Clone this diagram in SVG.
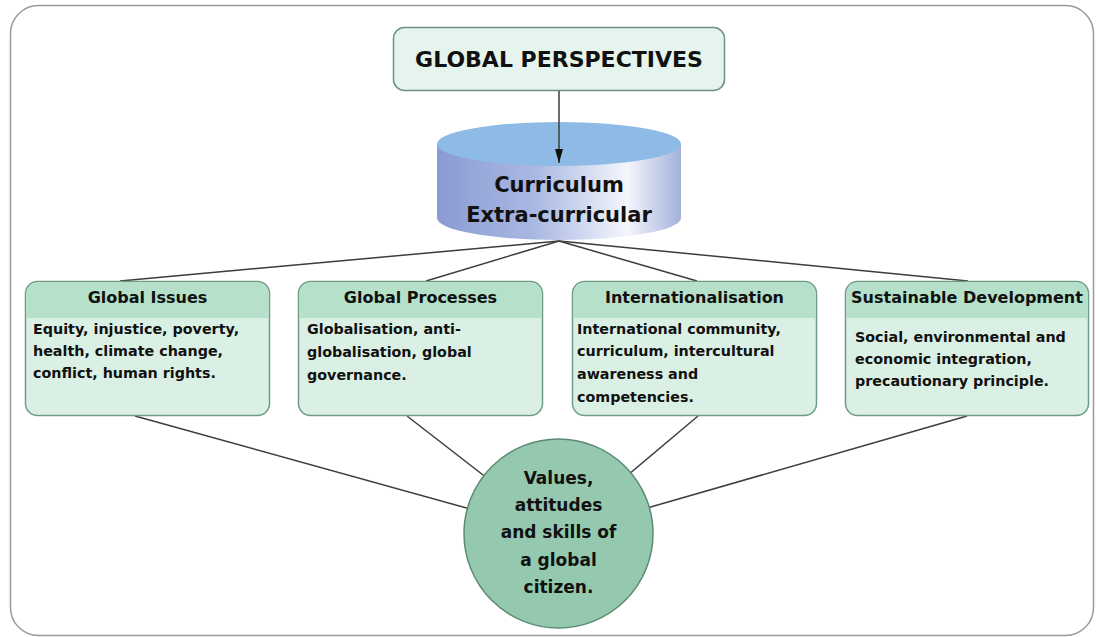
<svg xmlns="http://www.w3.org/2000/svg" width="1096" height="637" viewBox="0 0 1096 637">
  <style>
    text { font-family: "DejaVu Sans", Verdana, sans-serif; font-weight: bold; fill: #111111; }
    .conn { stroke: #3c3c3c; stroke-width: 1.5; fill: none; }
    .box { fill: #dbf0e4; stroke: #6f9c84; stroke-width: 1.5; }
    .hdr { fill: #b5e1cb; }
    .title { font-size: 16px; text-anchor: middle; }
    .body { font-size: 14.3px; }
    .circ { font-size: 17px; text-anchor: middle; }
  </style>
  <defs>
    <marker id="arrow" viewBox="0 0 14 8" refX="14" refY="4" markerWidth="14" markerHeight="8" orient="auto" markerUnits="userSpaceOnUse">
      <path d="M0,0 L14,4 L0,8 Z" fill="#111"/>
    </marker>
    <linearGradient id="cylSide" x1="0" y1="0" x2="1" y2="0">
      <stop offset="0" stop-color="#8a9bd2"/>
      <stop offset="0.4" stop-color="#a9b8e2"/>
      <stop offset="0.78" stop-color="#f4f6fc"/>
      <stop offset="1" stop-color="#a3b2dc"/>
    </linearGradient>
  </defs>

  <rect id="frame" x="10.5" y="5.5" width="1083" height="630" rx="28" ry="28" fill="#ffffff" stroke="#9a9a9a" stroke-width="1.5"/>

  <g id="connectors">
    <line class="conn" x1="559" y1="241" x2="120" y2="281"/>
    <line class="conn" x1="559" y1="241" x2="426" y2="281"/>
    <line class="conn" x1="559" y1="241" x2="697" y2="281"/>
    <line class="conn" x1="559" y1="241" x2="968" y2="281"/>
    <line class="conn" x1="135" y1="416" x2="558.5" y2="533.5"/>
    <line class="conn" x1="407" y1="416" x2="558.5" y2="533.5"/>
    <line class="conn" x1="698" y1="416" x2="558.5" y2="533.5"/>
    <line class="conn" x1="967" y1="416" x2="558.5" y2="533.5"/>
  </g>

  <g id="global-perspectives">
    <rect x="393.5" y="27.5" width="331" height="63" rx="11" ry="11" fill="#e5f4ec" stroke="#6f8f80" stroke-width="1.5"/>
    <text x="559" y="67" font-size="22" text-anchor="middle">GLOBAL PERSPECTIVES</text>
  </g>

  <g id="curriculum">
    <path d="M437,144 L437,218 A122,22 0 0 0 681,218 L681,144 Z" fill="url(#cylSide)"/>
    <ellipse cx="559" cy="144" rx="122" ry="22" fill="#8dbbe6"/>
    <text x="559" y="192" font-size="21" text-anchor="middle">Curriculum</text>
    <text x="559" y="222" font-size="21" text-anchor="middle">Extra-curricular</text>
  </g>

  <g id="arrow-connector">
    <line class="conn" x1="559" y1="91" x2="559" y2="163" marker-end="url(#arrow)"/>
  </g>

  <g id="global-issues">
    <rect class="box" x="25.5" y="281.5" width="244" height="134" rx="12" ry="12"/>
    <path class="hdr" d="M26.5,318 L26.5,293.5 A11,11 0 0 1 37.5,282.5 L257.5,282.5 A11,11 0 0 1 268.5,293.5 L268.5,318 Z"/>
    <text class="title" x="147.5" y="303">Global Issues</text>
    <text class="body" x="33" y="334">Equity, injustice, poverty,</text>
    <text class="body" x="33" y="356">health, climate change,</text>
    <text class="body" x="33" y="378">conflict, human rights.</text>
  </g>

  <g id="global-processes">
    <rect class="box" x="298.5" y="281.5" width="244" height="134" rx="12" ry="12"/>
    <path class="hdr" d="M299.5,318 L299.5,293.5 A11,11 0 0 1 310.5,282.5 L530.5,282.5 A11,11 0 0 1 541.5,293.5 L541.5,318 Z"/>
    <text class="title" x="420.5" y="303">Global Processes</text>
    <text class="body" x="307" y="334">Globalisation, anti-</text>
    <text class="body" x="307" y="357">globalisation, global</text>
    <text class="body" x="307" y="380">governance.</text>
  </g>

  <g id="internationalisation">
    <rect class="box" x="572.5" y="281.5" width="244" height="134" rx="12" ry="12"/>
    <path class="hdr" d="M573.5,318 L573.5,293.5 A11,11 0 0 1 584.5,282.5 L804.5,282.5 A11,11 0 0 1 815.5,293.5 L815.5,318 Z"/>
    <text class="title" x="694.5" y="303">Internationalisation</text>
    <text class="body" x="577" y="334">International community,</text>
    <text class="body" x="577" y="356">curriculum, intercultural</text>
    <text class="body" x="577" y="379">awareness and</text>
    <text class="body" x="577" y="402">competencies.</text>
  </g>

  <g id="sustainable-development">
    <rect class="box" x="845.5" y="281.5" width="243" height="134" rx="12" ry="12"/>
    <path class="hdr" d="M846.5,318 L846.5,293.5 A11,11 0 0 1 857.5,282.5 L1076.5,282.5 A11,11 0 0 1 1087.5,293.5 L1087.5,318 Z"/>
    <text class="title" x="967" y="303">Sustainable Development</text>
    <text class="body" x="855" y="342">Social, environmental and</text>
    <text class="body" x="855" y="364">economic integration,</text>
    <text class="body" x="855" y="386">precautionary principle.</text>
  </g>

  <g id="global-citizen">
    <circle cx="558.5" cy="533.5" r="94.5" fill="#95c9af" stroke="#5c8a72" stroke-width="1.5"/>
    <text class="circ" x="558.5" y="484">Values,</text>
    <text class="circ" x="558.5" y="511">attitudes</text>
    <text class="circ" x="558.5" y="538">and skills of</text>
    <text class="circ" x="558.5" y="566">a global</text>
    <text class="circ" x="558.5" y="593">citizen.</text>
  </g>
</svg>
